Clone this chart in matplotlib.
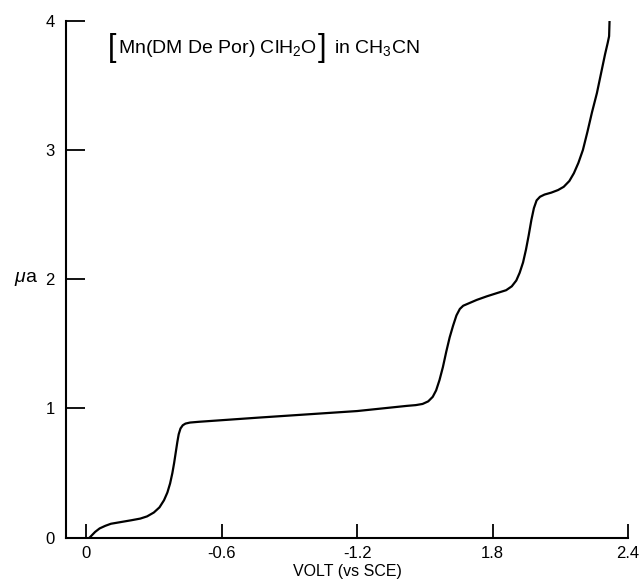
import matplotlib
matplotlib.use("Agg")
import matplotlib.pyplot as plt

plt.rcParams['font.family'] = ['Liberation Sans', 'DejaVu Sans']
plt.rcParams['mathtext.fontset'] = 'custom'
plt.rcParams['mathtext.rm'] = 'Liberation Sans'
plt.rcParams['mathtext.it'] = 'Liberation Sans:italic'

# polarogram (volt, microamp)
volt = [0.015, 0.025, 0.04, 0.06, 0.085, 0.11, 0.15, 0.2, 0.24, 0.27,
        0.30, 0.325, 0.345, 0.36, 0.372, 0.382, 0.39, 0.397, 0.404, 0.41,
        0.418, 0.428, 0.44, 0.46, 0.5, 0.77, 1.2, 1.42, 1.46, 1.49,
        1.515, 1.535, 1.55, 1.565, 1.58, 1.595, 1.61, 1.625, 1.64, 1.655,
        1.67, 1.69, 1.73, 1.775, 1.82, 1.86, 1.885, 1.905, 1.92, 1.935,
        1.948, 1.96, 1.972, 1.983, 1.995, 2.01, 2.03, 2.06, 2.09, 2.115,
        2.14, 2.16, 2.18, 2.2, 2.22, 2.24, 2.262, 2.28, 2.298, 2.31,
        2.316, 2.318]
current = [0.0, 0.018, 0.045, 0.072, 0.092, 0.108, 0.12, 0.135, 0.148, 0.165,
           0.195, 0.235, 0.29, 0.35, 0.42, 0.5, 0.58, 0.66, 0.74, 0.8,
           0.845, 0.87, 0.883, 0.891, 0.897, 0.93, 0.98, 1.02, 1.026, 1.035,
           1.055, 1.09, 1.14, 1.22, 1.32, 1.44, 1.55, 1.64, 1.72, 1.77,
           1.795, 1.81, 1.84, 1.868, 1.893, 1.915, 1.945, 1.99, 2.05, 2.13,
           2.23, 2.34, 2.46, 2.55, 2.61, 2.638, 2.655, 2.67, 2.69, 2.715,
           2.76, 2.82, 2.90, 3.0, 3.14, 3.29, 3.44, 3.59, 3.74, 3.83,
           3.88, 4.0]

xticks = [0, 0.6, 1.2, 1.8, 2.4]
xlabels = ["0", "-0.6", "-1.2", "1.8", "2.4"]
yticks = [0, 1, 2, 3, 4]
ylabels = ["0", "1", "2", "3", "4"]

fig = plt.figure(figsize=(6.42, 5.79), dpi=100)
ax = fig.add_axes([0.1028, 0.0713, 0.8755, 0.8929])

ax.plot(volt, current, color='black', lw=1.6)

ax.set_xlim(-0.089, 2.4)
ax.set_ylim(0, 4)
ax.spines['top'].set_visible(False)
ax.spines['right'].set_visible(False)
ax.spines['left'].set_linewidth(1.5)
ax.spines['bottom'].set_linewidth(1.5)

ax.set_xticks(xticks)
ax.set_xticklabels(xlabels)
ax.set_yticks(yticks)
ax.set_yticklabels(ylabels)
ax.tick_params(axis='x', direction='in', length=10, width=1.3, labelsize=12, pad=6)
ax.tick_params(axis='y', direction='in', length=14, width=1.3, labelsize=12, pad=8)

ax.set_xlabel("VOLT (vs SCE)", fontsize=11.5, labelpad=2)
ax.set_ylabel(r"$\mathit{\mu}$a", fontsize=14, rotation=0, labelpad=14, va='center')

# title block: big brackets round the complex, then the solvent
lb = ax.text(0.075, 0.947, "[", transform=ax.transAxes, fontsize=22,
             va='center', ha='left', fontweight='light')
body = ax.annotate(r"Mn(DM De Por) ClH$_2$O", xy=(1, 0.5), xycoords=lb,
                   xytext=(1, 0), textcoords='offset points',
                   fontsize=14, va='center', ha='left')
rb = ax.annotate("]", xy=(1, 0.5), xycoords=body, xytext=(1, 0),
                 textcoords='offset points', fontsize=22, va='center', ha='left')
ax.annotate(r"in CH$_3$CN", xy=(1, 0.5), xycoords=rb, xytext=(5, 0),
            textcoords='offset points', fontsize=14, va='center', ha='left')

fig.savefig("out.png", dpi=100)
